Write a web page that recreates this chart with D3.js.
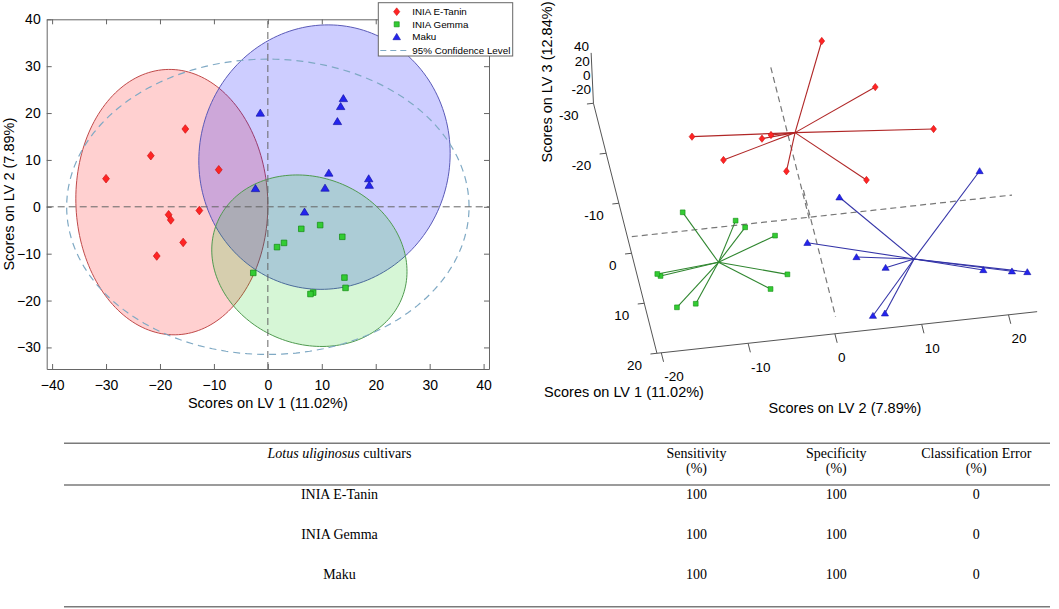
<!DOCTYPE html>
<html>
<head>
<meta charset="utf-8">
<script src="https://cdn.jsdelivr.net/npm/d3@7"></script>
<style>
body { margin: 0; background: #fff; }
svg { display: block; font-family: "Liberation Sans", Arial, sans-serif; }
.axis text { font-size: 14px; fill: #000; }
.axis path, .axis line { stroke: #666; }
.tick3d { font-size: 13.5px; fill: #000; }
.tbl { font-family: "Liberation Serif", "Times New Roman", serif; font-size: 14px; fill: #000; }
</style>
</head>
<body>
<svg id="fig" width="1059" height="609"></svg>
<script>
// ---- data ----
const cultivars = ["INIA E-Tanin", "INIA Gemma", "Maku"];

// scores per sample: LV1/LV2 from the 2D plot, LV3 from the 3D view
const taninLv1 = [-30.0, -21.7, -15.3, -9.1, -18.4, -18.0, -12.7, -15.7, -20.6];
const taninLv2 = [6.0, 10.9, 16.6, 7.9, -1.7, -2.8, -0.8, -7.6, -10.5];
const taninLv3 = [21.5, 8.7, -12.6, -28.9, -18.3, -19.2, -30.3, -26.5, -24.3];
const gemmaLv1 = [9.7, 6.2, 13.8, 3.0, 1.7, -2.7, 14.2, 14.4, 8.4, 7.9];
const gemmaLv2 = [-3.9, -4.7, -6.4, -7.7, -8.6, -14.1, -15.1, -17.3, -18.3, -18.6];
const gemmaLv3 = [-13.8, 16.7, -2.4, 10.0, 11.4, -0.3, -8.6, -9.3, -6.1, -6.4];
const makuLv1 = [-1.4, -2.3, 14.0, 13.5, 12.9, 11.3, 10.6, 18.7, 18.8, 6.8];
const makuLv2 = [20.0, 3.9, 23.1, 21.4, 18.2, 7.2, 4.0, 6.0, 4.6, -1.1];
const makuLv3 = [21.1, -0.4, -16.3, -16.5, -14.7, -8.1, 6.1, -18.5, -19.3, 6.2];

// class ellipses in LV1/LV2 units (centre, half sizes, tilt term)
const ellCx = [-17.8, 7.7, 10.5];
const ellCy = [1.0, -11.5, 10.6];
const ellRx = [17.8, 18.1, 23.3];
const ellRy = [28.3, 18.15, 28.2];
const ellTilt = [0.7, 2.3, -0.8];
const centerLv3 = [-14.4, -0.9, -6.0];
const cl95Radii = [37.3, 31.5];

const xTicks2d = [-40, -30, -20, -10, 0, 10, 20, 30, 40];
const yTicks2d = [-30, -20, -10, 0, 10, 20, 30, 40];
const lv1Ticks3d = [-30, -20, -10, 0, 10, 20];
const lv2Ticks3d = [-20, -10, 0, 10, 20];
const lv3Ticks3d = [40, 20, 0, -20];
const lv1Range3d = [-30, 20];
const lv2Range3d = [-20.5, 23.3];
const lv3Range3d = [-30, 40];

const tableCols = ["Sensitivity", "Specificity", "Classification Error"];
const sensitivity = [100, 100, 100];
const specificity = [100, 100, 100];
const classError = [0, 0, 0];

const lv1ByGroup = [taninLv1, gemmaLv1, makuLv1];
const lv2ByGroup = [taninLv2, gemmaLv2, makuLv2];
const lv3ByGroup = [taninLv3, gemmaLv3, makuLv3];

// ---- styles ----
const fillCol = ["#ff0000", "#00c800", "#0000ff"];
const fillAlpha = [0.185, 0.16, 0.196];
const edgeCol = ["#c04a4a", "#4f9a4f", "#5a5ab8"];
const markFill = ["#ff2424", "#33cc33", "#2424ee"];
const markStroke = ["#cc1414", "#138a13", "#1414a8"];
const spokeCol = ["#b02626", "#2f862f", "#3434a8"];
const shapes = [
  "M0,-4.3L3.4,0L0,4.3L-3.4,0Z",
  "M-2.8,-2.8H2.8V2.8H-2.8Z",
  "M0,-3.9L4.2,3.1H-4.2Z"
];

const svg = d3.select("#fig");

function marker(g, i, px, py, s) {
  g.append("path")
    .attr("d", shapes[i])
    .attr("transform", `translate(${px},${py}) scale(${s})`)
    .attr("fill", markFill[i])
    .attr("stroke", markStroke[i])
    .attr("stroke-width", 0.7);
}

// ---- 2D score plot ----
const x = d3.scaleLinear().domain([-41, 41]).range([46.7, 489]);
const y = d3.scaleLinear().domain([-34.6, 40]).range([369, 19.3]);
const plot = svg.append("g");

function ellipsePts(cx, cy, rx, ry, k) {
  return d3.range(0, 180).map(j => {
    const t = j / 180 * 2 * Math.PI;
    return [cx + rx * Math.cos(t), cy + ry * Math.sin(t) - k * Math.cos(t)];
  });
}
const line2d = d3.line().x(d => x(d[0])).y(d => y(d[1])).curve(d3.curveLinearClosed);

[0, 2, 1].forEach(i => {
  plot.append("path")
    .attr("d", line2d(ellipsePts(ellCx[i], ellCy[i], ellRx[i], ellRy[i], ellTilt[i])))
    .attr("fill", fillCol[i])
    .attr("fill-opacity", fillAlpha[i])
    .attr("stroke", edgeCol[i])
    .attr("stroke-width", 1);
});

plot.append("path")
  .attr("d", line2d(ellipsePts(0, 0, cl95Radii[0], cl95Radii[1], 0)))
  .attr("fill", "none")
  .attr("stroke", "#7fa9c4")
  .attr("stroke-width", 1.2)
  .attr("stroke-dasharray", "7,5");

// zero cross-hairs
plot.append("line")
  .attr("x1", x(0)).attr("x2", x(0))
  .attr("y1", y.range()[0]).attr("y2", y.range()[1])
  .attr("stroke", "#666").attr("stroke-dasharray", "7,4");
plot.append("line")
  .attr("x1", x.range()[0]).attr("x2", x.range()[1])
  .attr("y1", y(0)).attr("y2", y(0))
  .attr("stroke", "#666").attr("stroke-dasharray", "7,4");

[0, 1, 2].forEach(i => {
  lv1ByGroup[i].forEach((v, j) => marker(plot, i, x(v), y(lv2ByGroup[i][j]), 1));
});

plot.append("g").attr("class", "axis")
  .attr("transform", `translate(0,${y.range()[0]})`)
  .call(d3.axisBottom(x).tickValues(xTicks2d).tickSizeInner(-5).tickSizeOuter(0).tickPadding(11));
plot.append("g").attr("class", "axis")
  .attr("transform", `translate(0,${y.range()[1]})`)
  .call(d3.axisTop(x).tickValues(xTicks2d).tickSizeInner(-5).tickSizeOuter(0).tickFormat(""));
plot.append("g").attr("class", "axis")
  .attr("transform", `translate(${x.range()[0]},0)`)
  .call(d3.axisLeft(y).tickValues(yTicks2d).tickSizeInner(-5).tickSizeOuter(0).tickPadding(6));
plot.append("g").attr("class", "axis")
  .attr("transform", `translate(${x.range()[1]},0)`)
  .call(d3.axisRight(y).tickValues(yTicks2d).tickSizeInner(-5).tickSizeOuter(0).tickFormat(""));

plot.append("text")
  .attr("x", (x.range()[0] + x.range()[1]) / 2).attr("y", 408)
  .attr("text-anchor", "middle").style("font-size", "14.5px")
  .text("Scores on LV 1 (11.02%)");
plot.append("text")
  .attr("transform", `translate(14,${(y.range()[0] + y.range()[1]) / 2}) rotate(-90)`)
  .attr("text-anchor", "middle").style("font-size", "14.5px")
  .text("Scores on LV 2 (7.89%)");

// legend
const leg = svg.append("g").attr("transform", "translate(378.3,2.7)");
leg.append("rect").attr("width", 134.4).attr("height", 53.3)
  .attr("fill", "#fff").attr("stroke", "#666");
const legLabels = cultivars.concat(["95% Confidence Level"]);
legLabels.forEach((lab, i) => {
  const ly = 9 + i * 12.6 + (i === 3 ? 1 : 0);
  if (i < 3) marker(leg, i, 18.4, ly, 0.9);
  else leg.append("line").attr("x1", 2).attr("x2", 30).attr("y1", ly).attr("y2", ly)
    .attr("stroke", "#7fa9c4").attr("stroke-width", 1.1).attr("stroke-dasharray", "6,4");
  leg.append("text").attr("x", 34).attr("y", ly + 3.6)
    .style("font-size", "9.8px").text(lab);
});

// ---- 3D score plot (orthographic view) ----
const o3 = [808.5, 212.2];
const s1 = d3.scaleLinear().domain([0, 10]).range([[0, 0], [12.7, 50]]);
const s2 = d3.scaleLinear().domain([0, 10]).range([[0, 0], [86.8, -9.5]]);
const s3 = d3.scaleLinear().domain([0, 10]).range([[0, 0], [-0.33, -7.2]]);
function proj(a, b, c) {
  const [ax, ay] = s1(a);
  const [bx, by] = s2(b);
  const [cx, cy] = s3(c);
  return [o3[0] + ax + bx + cx, o3[1] + ay + by + cy];
}
const p3 = svg.append("g");
const seg3 = (p, q, col, dash, w) => p3.append("line")
  .attr("x1", p[0]).attr("y1", p[1]).attr("x2", q[0]).attr("y2", q[1])
  .attr("stroke", col).attr("stroke-width", w || 1)
  .attr("stroke-dasharray", dash || null);

const lv1Lo = lv1Range3d[0], lv1Hi = lv1Range3d[1];
const lv2Lo = lv2Range3d[0], lv2Hi = lv2Range3d[1];
const lv3Lo = lv3Range3d[0], lv3Hi = lv3Range3d[1];

// axes
seg3(proj(lv1Lo, lv2Lo, lv3Lo), proj(lv1Lo, lv2Lo, lv3Hi), "#555");
seg3(proj(lv1Lo, lv2Lo, lv3Lo), proj(lv1Hi, lv2Lo, lv3Lo), "#555");
seg3(proj(lv1Hi, lv2Lo, lv3Lo), proj(lv1Hi, lv2Hi, lv3Lo), "#555");

lv1Ticks3d.forEach(t => {
  const a = proj(t, lv2Lo, lv3Lo);
  seg3(a, proj(t, lv2Lo - 0.75, lv3Lo), "#555");
  p3.append("text").attr("class", "tick3d")
    .attr("x", a[0] - 15).attr("y", a[1] + 16.3)
    .attr("text-anchor", "end").text(t);
});
lv2Ticks3d.forEach(t => {
  const a = proj(lv1Hi, t, lv3Lo);
  seg3(a, proj(lv1Hi + 1.8, t, lv3Lo), "#555");
  p3.append("text").attr("class", "tick3d")
    .attr("x", a[0] + 3).attr("y", a[1] + 28.3)
    .attr("text-anchor", "start").text(t);
});
lv3Ticks3d.forEach(t => {
  const a = proj(lv1Lo, lv2Lo, t);
  p3.append("text").attr("class", "tick3d")
    .attr("x", a[0] - 2).attr("y", a[1] - 1.7)
    .attr("text-anchor", "end").text(t);
});

// zero reference lines
seg3(proj(-29, -0.1, 0), proj(2, -0.1, 0), "#777", "6,4", 1.2);
seg3(proj(-4.4, 0.06, 0), proj(20.9, 0.06, 0), "#777", "6,4", 1.2);
seg3(proj(1, lv2Lo, 0), proj(1, lv2Hi, 0), "#777", "6,4", 1.2);

// spokes from class centre, then samples
[0, 1, 2].forEach(i => {
  const c = proj(ellCx[i], ellCy[i], centerLv3[i]);
  lv1ByGroup[i].forEach((v, j) => {
    seg3(c, proj(v, lv2ByGroup[i][j], lv3ByGroup[i][j]), spokeCol[i], null, 1.1);
  });
});
[0, 1, 2].forEach(i => {
  lv1ByGroup[i].forEach((v, j) => {
    const p = proj(v, lv2ByGroup[i][j], lv3ByGroup[i][j]);
    marker(p3, i, p[0], p[1], 0.85);
  });
});

p3.append("text")
  .attr("transform", "translate(552,82) rotate(-90)")
  .attr("text-anchor", "middle").style("font-size", "14.5px")
  .text("Scores on LV 3 (12.84%)");
p3.append("text").attr("x", 624).attr("y", 397)
  .attr("text-anchor", "middle").style("font-size", "14.5px")
  .text("Scores on LV 1 (11.02%)");
p3.append("text").attr("x", 845).attr("y", 413)
  .attr("text-anchor", "middle").style("font-size", "14.5px")
  .text("Scores on LV 2 (7.89%)");

// ---- table ----
const tbl = svg.append("g").attr("class", "tbl");
const colX = [339.5, 696.5, 836.3, 976.3];
const rowY = d3.scalePoint().domain(cultivars).range([499.3, 578.6]);
[443.3, 485, 606.7].forEach(ly => {
  tbl.append("line").attr("x1", 64).attr("x2", 1050).attr("y1", ly).attr("y2", ly)
    .attr("stroke", "#7a7a7a").attr("stroke-width", 1.6);
});
const head = tbl.append("text").attr("class", "tbl").attr("x", colX[0]).attr("y", 457.5)
  .attr("text-anchor", "middle");
head.append("tspan").style("font-style", "italic").text("Lotus uliginosus");
head.append("tspan").text(" cultivars");
tableCols.forEach((c, k) => {
  tbl.append("text").attr("class", "tbl").attr("x", colX[k + 1]).attr("y", 457.5)
    .attr("text-anchor", "middle").text(c);
  tbl.append("text").attr("class", "tbl").attr("x", colX[k + 1]).attr("y", 472.5)
    .attr("text-anchor", "middle").text("(%)");
});
cultivars.forEach((name, r) => {
  const vals = [name, sensitivity[r], specificity[r], classError[r]];
  vals.forEach((v, k) => {
    tbl.append("text").attr("class", "tbl").attr("x", colX[k]).attr("y", rowY(name))
      .attr("text-anchor", "middle").text(v);
  });
});
</script>
</body>
</html>
